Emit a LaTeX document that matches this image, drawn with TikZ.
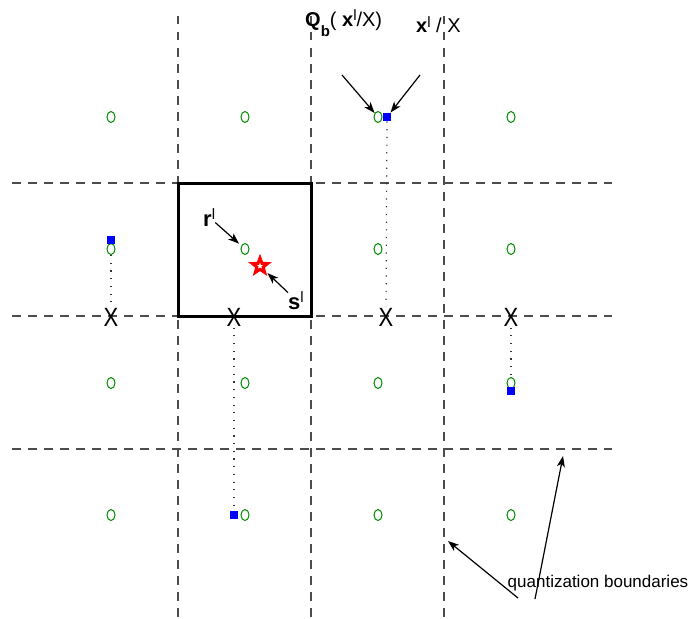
\documentclass[tikz,border=0pt]{standalone}
\usepackage{fontspec}
\setmainfont{Liberation Sans}
\usetikzlibrary{arrows.meta,shapes.geometric}

\newcommand{\smallidx}{\fontsize{15}{15}\selectfont}

\begin{document}
\begin{tikzpicture}[x=1pt, y=-1pt,
                    boundary/.style={dash pattern=on 8.5pt off 7.5pt, black!70, line width=1.1pt},
                    recon/.style={ellipse, draw=green!55!black, line width=1pt, inner sep=0pt,
                                  minimum width=8pt, minimum height=11pt},
                    sample/.style={fill=blue, inner sep=0pt, minimum size=8.5pt},
                    cross/.style={inner sep=1pt, yscale=1.2, font=\fontsize{22}{22}\selectfont},
                    trace/.style={dash pattern=on 1.2pt off 6.5pt, line width=1.2pt, black!80},
                    pointer/.style={-{Stealth[length=11pt, width=8pt, inset=3pt]}, line width=1.2pt},
                    lbl/.style={inner sep=0pt, font=\fontsize{22}{22}\selectfont}]
  \useasboundingbox (0,0) rectangle (692,618);

  \foreach \x in {178,311,444}
    \draw[boundary] (\x,16) -- (\x,618);
  \foreach \y in {183,316,449}
    \draw[boundary] (12,\y) -- (612,\y);

  \draw[line width=3pt] (178,183) rectangle (311,316);

  \foreach \i/\x in {1/111,2/245,3/378,4/511}
    \foreach \j/\y in {1/117,2/249,3/383,4/515}
      \node[recon] (c\i\j) at (\x,\y) {};

  \node[sample] (sq1) at (387,117) {};
  \node[sample] (sq2) at (111,240) {};
  \node[sample] (sq3) at (511,391) {};
  \node[sample] (sq4) at (234,515) {};

  \node[cross] (x1) at (111,317) {X};
  \node[cross] (x2) at (234,317) {X};
  \node[cross] (x3) at (386,317) {X};
  \node[cross] (x4) at (511,317) {X};

  \draw[trace] (sq1) -- (x3);
  \draw[trace] (c12) -- (x1);
  \draw[trace] (x4) -- (c43);
  \draw[trace] (x2) -- (sq4);

  \node[star, star points=5, star point ratio=2.4, draw=red, fill=white, line width=3pt,
        inner sep=0pt, minimum size=16pt] (est) at (260,266) {};

  \node[lbl, anchor=base west, font=\fontsize{20}{20}\selectfont] (qlbl) at (305,27)
    {\textbf{Q}\raisebox{-10pt}{\smallidx\textbf{b}}( \textbf{x}\raisebox{6pt}{\smallidx l}/X)};
  \node[lbl, anchor=base west, font=\fontsize{20}{20}\selectfont] (xlbl) at (416,33)
    {\textbf{x}\raisebox{5pt}{\smallidx l} / X};
  \node[lbl, anchor=base west] (rlbl) at (203,226)
    {\textbf{r}\raisebox{7pt}{\smallidx l}};
  \node[lbl, anchor=base west] (slbl) at (288,309)
    {\textbf{s}\raisebox{7pt}{\smallidx l}};
  \node[inner sep=0pt, font=\fontsize{17}{17}\selectfont] (qb) at (598,583)
    {quantization boundaries};

  \coordinate (qtail) at (342,75);
  \coordinate (xtail) at (420,75);
  \coordinate (vtip) at (448,541);
  \coordinate (htip) at (563,456);

  \draw[pointer] (qtail) -- (c31);
  \draw[pointer] (xtail) -- (sq1);
  \draw[pointer, shorten >=3pt] (rlbl) -- (c22);
  \draw[pointer, shorten >=2pt] (slbl) -- (est);
  \draw[pointer] ([xshift=-80pt, yshift=-15pt]qb.center) -- (vtip);
  \draw[pointer] ([xshift=-63pt, yshift=-16pt]qb.center) -- (htip);
\end{tikzpicture}
\end{document}
